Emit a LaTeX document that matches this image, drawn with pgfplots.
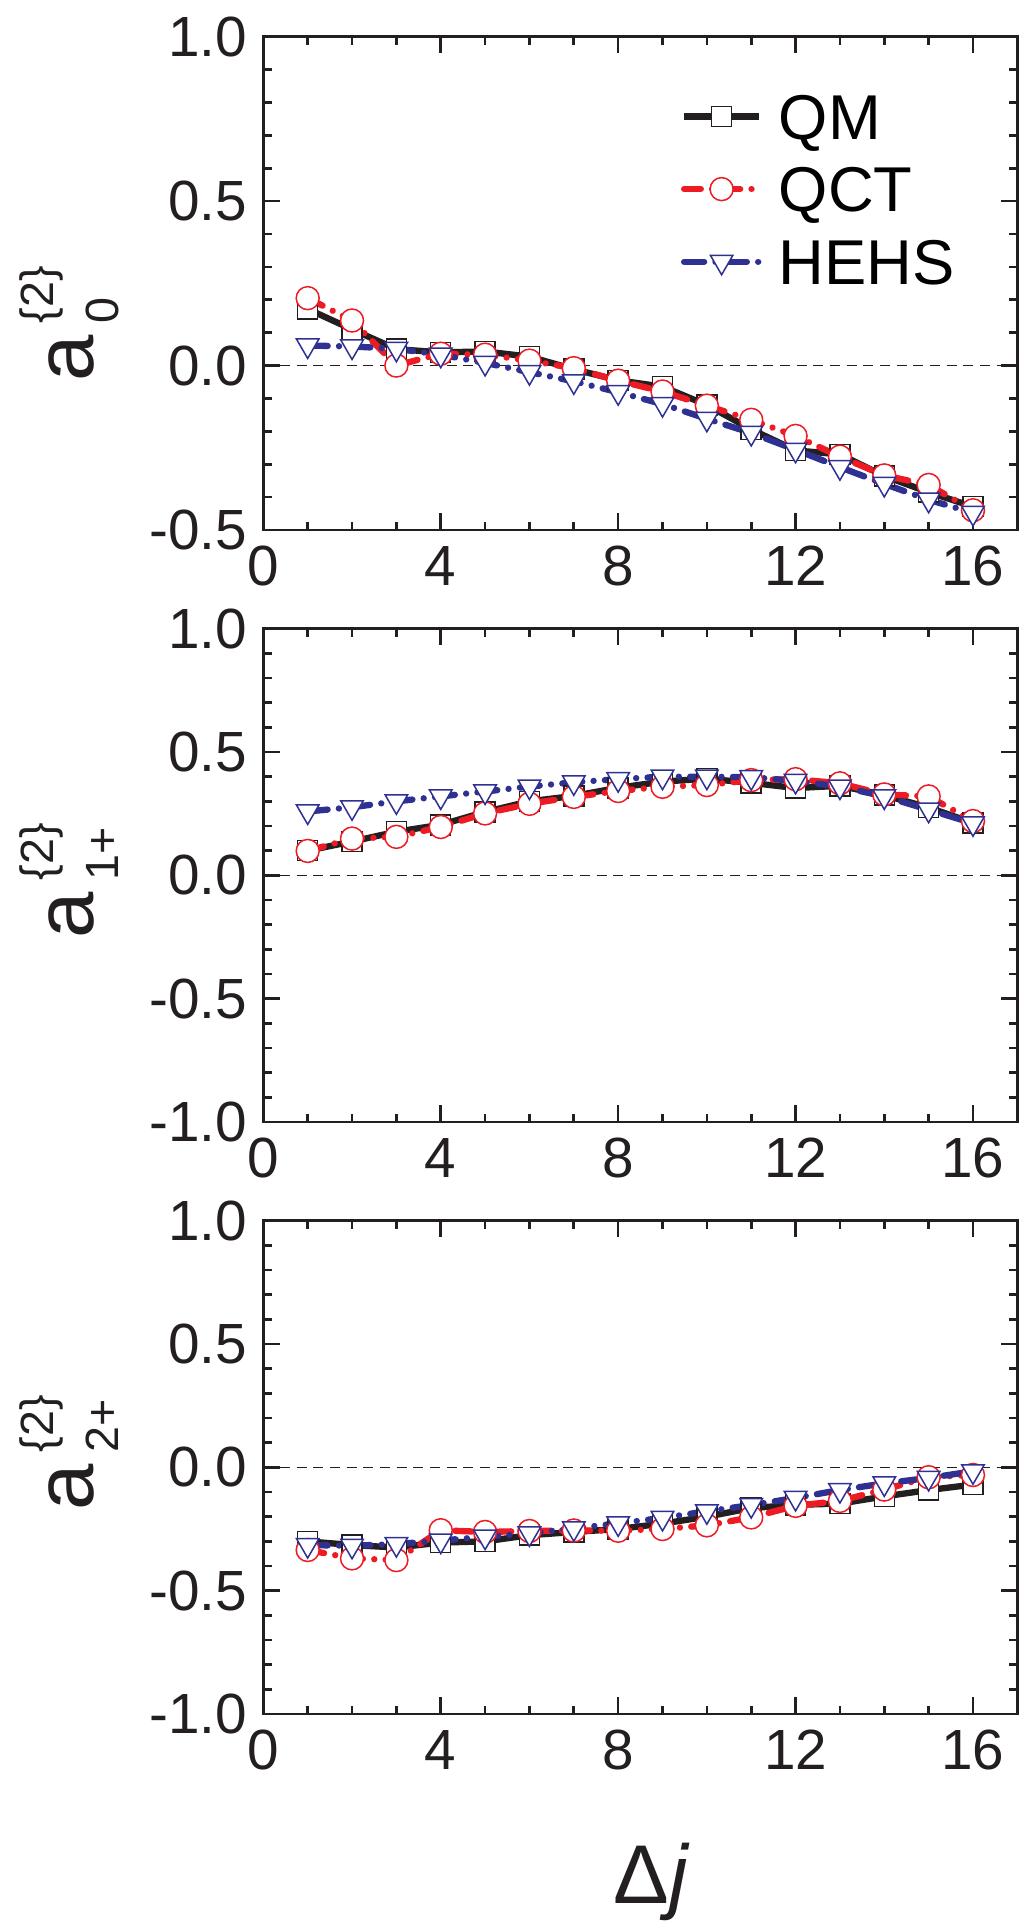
\documentclass[border=0pt]{standalone}
\usepackage{pgfplots}
\pgfplotsset{compat=1.18}
\usepackage{pgfplotstable}
\usepackage{fontspec}
\setmainfont{Liberation Sans}
\definecolor{qmblack}{HTML}{231F20}
\definecolor{qctred}{HTML}{ED1C24}
\definecolor{hehsblue}{HTML}{2E3192}

\pgfplotstableread{
x qm qct hehs
1 0.172 0.205 0.061
2 0.110 0.137 0.058
3 0.050 0.000 0.051
4 0.040 0.036 0.033
5 0.043 0.033 0.008
6 0.027 0.015 -0.020
7 -0.011 -0.008 -0.048
8 -0.045 -0.046 -0.081
9 -0.064 -0.079 -0.117
10 -0.120 -0.122 -0.162
11 -0.194 -0.165 -0.205
12 -0.258 -0.214 -0.256
13 -0.270 -0.277 -0.309
14 -0.336 -0.334 -0.360
15 -0.385 -0.363 -0.408
16 -0.429 -0.440 -0.448
}\tableA

\pgfplotstableread{
x qm qct hehs
1 0.100 0.099 0.259
2 0.137 0.149 0.276
3 0.177 0.156 0.300
4 0.205 0.196 0.320
5 0.257 0.251 0.340
6 0.300 0.290 0.360
7 0.322 0.318 0.377
8 0.355 0.342 0.390
9 0.380 0.359 0.400
10 0.392 0.366 0.400
11 0.375 0.386 0.398
12 0.354 0.390 0.383
13 0.363 0.373 0.360
14 0.325 0.328 0.320
15 0.275 0.320 0.266
16 0.213 0.220 0.211
}\tableB

\pgfplotstableread{
x qm qct hehs
1 -0.300 -0.335 -0.315
2 -0.315 -0.369 -0.318
3 -0.325 -0.376 -0.311
4 -0.305 -0.255 -0.297
5 -0.300 -0.262 -0.281
6 -0.275 -0.258 -0.268
7 -0.262 -0.256 -0.247
8 -0.250 -0.257 -0.227
9 -0.228 -0.250 -0.205
10 -0.200 -0.235 -0.178
11 -0.165 -0.203 -0.153
12 -0.152 -0.156 -0.124
13 -0.147 -0.136 -0.092
14 -0.118 -0.090 -0.065
15 -0.092 -0.040 -0.043
16 -0.070 -0.031 -0.016
}\tableC

\pgfplotsset{
  panel/.style={
    scale only axis, width=226.2pt, height=148pt,
    xmin=0, xmax=17, xtick={0,4,8,12,16}, minor x tick num=3,
    minor y tick num=4,
    tick align=inside,
    major tick length=5pt, minor tick length=2.5pt,
    axis line style={line width=0.8pt, color=qmblack},
    every tick/.style={line width=0.8pt, color=qmblack},
    tick label style={font=\fontsize{17pt}{17pt}\selectfont, text=qmblack},
    xticklabel style={yshift=-1.3pt},
    yticklabel style={xshift=-1.3pt},
    /pgf/number format/assume math mode=true,
    clip=false,
  },
  qmstyle/.style={color=qmblack, line width=1.9pt, solid, mark=square*,
    mark size=3pt, mark options={solid, fill=white, draw=qmblack, line width=0.45pt}},
  qctstyle/.style={color=qctred, line width=1.9pt, line cap=round,
    dash pattern=on 5pt off 3.4pt on 0.01pt off 3.4pt, mark=*,
    mark size=3.45pt, mark options={solid, fill=white, draw=qctred, line width=0.45pt}},
  hehsstyle/.style={color=hehsblue, line width=1.9pt, line cap=round,
    dash pattern=on 6pt off 3.4pt on 0.01pt off 3.4pt, mark=triangle*,
    mark size=3.9pt, mark options={solid, rotate=180, fill=white, draw=hehsblue, line width=0.45pt}},
  zeroline/.style={forget plot, qmblack, line width=0.45pt, dash pattern=on 3pt off 2pt},
}

\newcommand{\alab}[1]{{\fontsize{25pt}{25pt}\selectfont a}\kern3.5pt\rlap{\raisebox{12pt}{\fontsize{14pt}{14pt}\selectfont\{2\}}}\raisebox{-7.5pt}{\fontsize{14pt}{14pt}\selectfont #1}}

\begin{document}
\begin{tikzpicture}
\useasboundingbox (0pt,0pt) rectangle (306pt,-577.8pt);

% top panel
\begin{axis}[panel, at={(79pt,-159pt)}, anchor=south west,
  ymin=-0.5, ymax=1.0, ytick={-0.5,0,0.5,1.0}, yticklabels={-0.5,0.0,0.5,1.0},
  legend style={draw=none, fill=none, inner sep=0pt,
    at={(axis description cs:0.553,0.691)}, anchor=west,
    font=\fontsize{19pt}{19pt}\selectfont, row sep=8.2pt,
    nodes={inner sep=0pt, text height=13.6pt, text depth=0pt},
    /tikz/every odd column/.append style={column sep=5pt}},
  legend cell align=left,
  legend image code/.code={\draw[mark repeat=2,mark phase=2] plot coordinates {(0pt,0pt) (11.25pt,0pt) (22.5pt,0pt)};},
]
\addplot[zeroline] coordinates {(0,0) (17,0)};
\addplot[qmstyle] table[x=x,y=qm] {\tableA};
\addplot[qctstyle] table[x=x,y=qct] {\tableA};
\addplot[hehsstyle] table[x=x,y=hehs] {\tableA};
\legend{QM,QCT,HEHS}
\end{axis}

% middle panel
\begin{axis}[panel, at={(79pt,-336.6pt)}, anchor=south west,
  ymin=-1.0, ymax=1.0, ytick={-1.0,-0.5,0,0.5,1.0}, yticklabels={-1.0,-0.5,0.0,0.5,1.0},
]
\addplot[zeroline] coordinates {(0,0) (17,0)};
\addplot[qmstyle] table[x=x,y=qm] {\tableB};
\addplot[qctstyle] table[x=x,y=qct] {\tableB};
\addplot[hehsstyle] table[x=x,y=hehs] {\tableB};
\end{axis}

% bottom panel
\begin{axis}[panel, at={(79pt,-514.2pt)}, anchor=south west,
  ymin=-1.0, ymax=1.0, ytick={-1.0,-0.5,0,0.5,1.0}, yticklabels={-1.0,-0.5,0.0,0.5,1.0},
]
\addplot[zeroline] coordinates {(0,0) (17,0)};
\addplot[qmstyle] table[x=x,y=qm] {\tableC};
\addplot[qctstyle] table[x=x,y=qct] {\tableC};
\addplot[hehsstyle] table[x=x,y=hehs] {\tableC};
\end{axis}

% axis labels
\node[rotate=90, anchor=base west, inner sep=0pt, text=qmblack] at (27.9pt,-114.6pt) {\alab{0}};
\node[rotate=90, anchor=base west, inner sep=0pt, text=qmblack] at (27.9pt,-281.7pt) {\alab{1+}};
\node[rotate=90, anchor=base west, inner sep=0pt, text=qmblack] at (27.9pt,-453.3pt) {\alab{2+}};
\node[anchor=base, inner sep=0pt, text=qmblack, font=\fontsize{25pt}{25pt}\selectfont] at (195.6pt,-570.9pt) {Δ\textit{j}};
\end{tikzpicture}
\end{document}
